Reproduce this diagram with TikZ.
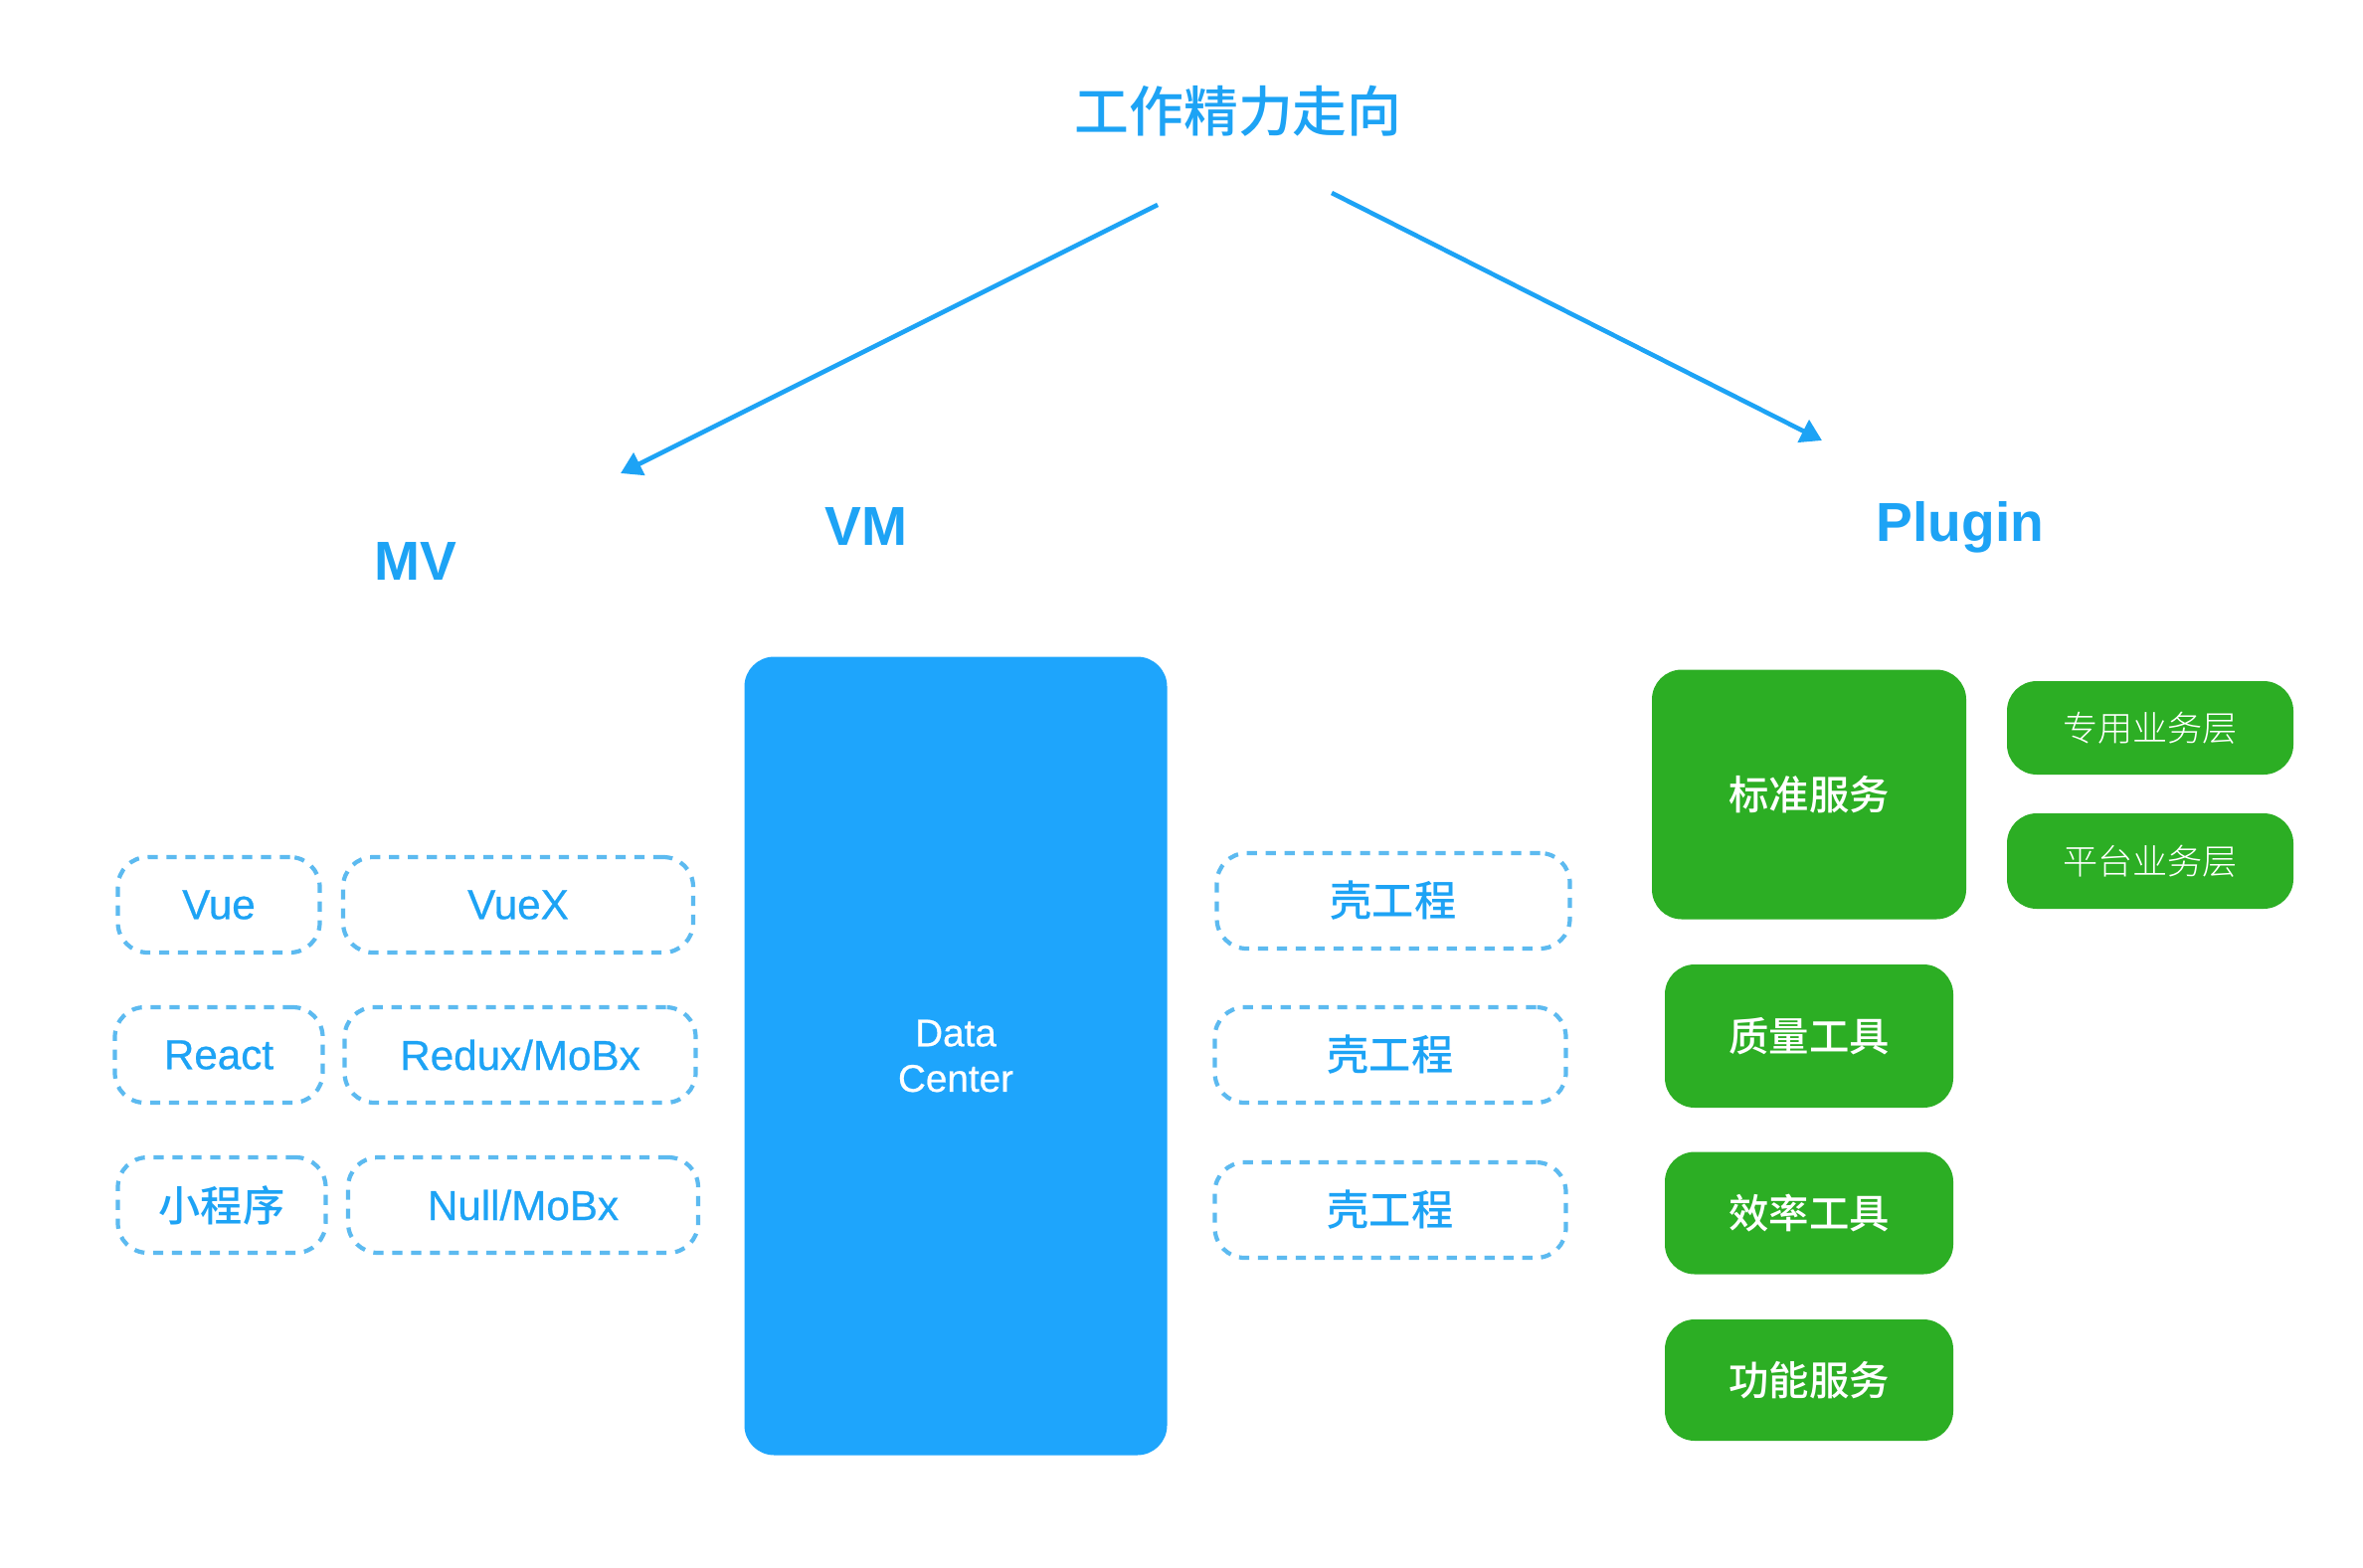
\documentclass[tikz,border=0pt]{standalone}
\usepackage{fontspec}
\setmainfont{Liberation Sans}
\newfontfamily\medsans{Liberation Sans}[FakeBold=0.6]
\newfontfamily\cjk{Noto Sans CJK SC}
\newfontfamily\cjkmed{Noto Sans CJK SC}[UprightFont=* Medium]
\newfontfamily\cjklight{Noto Sans CJK SC}[UprightFont=* Light]
\usetikzlibrary{arrows.meta}

\definecolor{skyblue}{RGB}{29,163,245}
\definecolor{dashblue}{RGB}{92,186,240}
\definecolor{boxblue}{RGB}{30,165,252}
\definecolor{plugreen}{RGB}{44,174,36}

\tikzset{
  lbl/.style={text=skyblue, inner sep=0pt, font=\fontsize{12pt}{14pt}\selectfont\medsans},
  dashbox/.style={lbl, draw=dashblue, line width=1.2pt, dash pattern=on 2.9pt off 2.5pt,
    rounded corners=0.3cm, minimum height=0.96cm},
  cjkdash/.style={dashbox, font=\fontsize{12pt}{14pt}\selectfont\cjkmed},
  greenbox/.style={fill=plugreen, text=white, inner sep=0pt, rounded corners=0.3cm,
    font=\fontsize{11.5pt}{14pt}\selectfont\cjkmed},
  layerbox/.style={greenbox, minimum width=2.88cm, font=\fontsize{10pt}{12pt}\selectfont\cjklight},
  heading/.style={text=skyblue, inner sep=0pt, font=\fontsize{15.7pt}{18pt}\selectfont\bfseries},
  flow/.style={draw=skyblue, line width=1.3pt, -{Triangle[length=6pt,width=7pt]}}
}

\begin{document}
\begin{tikzpicture}[x=1cm,y=1cm]
	\fill [white] (0,0) rectangle (23.76,-15.76);
	\useasboundingbox (0,0) rectangle (23.76,-15.76);
	% title and the two directions
	\draw (12.45,-1.12) node [heading, font=\fontsize{15.6pt}{18pt}\selectfont\cjkmed] (title) {工作精力走向};
	\coordinate (lstart) at (11.64,-2.06);
	\coordinate (lend) at (6.24,-4.76);
	\coordinate (rstart) at (13.39,-1.94);
	\coordinate (rend) at (18.32,-4.43);
	\draw [flow] (lstart) -- (lend);
	\draw [flow] (rstart) -- (rend);
	\draw (4.18,-5.65) node [heading] (mv) {MV};
	\draw (8.71,-5.30) node [heading] (vm) {VM};
	\draw (19.71,-5.30) node [heading] (plugin) {Plugin};
	% MV column
	\draw (2.20,-9.10) node [dashbox, minimum width=2.03cm] (vue) {Vue};
	\draw (5.21,-9.10) node [dashbox, minimum width=3.52cm] (vuex) {VueX};
	\draw (2.20,-10.61) node [dashbox, minimum width=2.09cm] (react) {React};
	\draw (5.23,-10.61) node [dashbox, minimum width=3.53cm] (redux) {Redux/MoBx};
	\draw (2.23,-12.12) node [cjkdash, minimum width=2.09cm] (mini) {小程序};
	\draw (5.26,-12.12) node [dashbox, minimum width=3.52cm] (null) {Null/MoBx};
	% VM column
	\draw (9.61,-10.62) node [fill=boxblue, rounded corners=0.3cm, minimum width=4.25cm, minimum height=8.03cm,
		text=white, align=center, font=\fontsize{11pt}{13pt}\selectfont\medsans] (data) {Data\\Center};
	\draw (14.01,-9.06) node [cjkdash, minimum width=3.55cm] (shella) {壳工程};
	\draw (13.98,-10.61) node [cjkdash, minimum width=3.53cm] (shellb) {壳工程};
	\draw (13.98,-12.17) node [cjkdash, minimum width=3.53cm] (shellc) {壳工程};
	% Plugin column
	\draw (18.19,-7.99) node [greenbox, minimum width=3.16cm, minimum height=2.51cm] (std) {标准服务};
	\draw (21.62,-7.32) node [layerbox, minimum height=0.94cm] (special) {专用业务层};
	\draw (21.62,-8.66) node [layerbox, minimum height=0.96cm] (platform) {平台业务层};
	\draw (18.19,-10.42) node [greenbox, minimum width=2.90cm, minimum height=1.44cm] (quality) {质量工具};
	\draw (18.19,-12.20) node [greenbox, minimum width=2.90cm, minimum height=1.23cm] (effic) {效率工具};
	\draw (18.19,-13.88) node [greenbox, minimum width=2.90cm, minimum height=1.22cm] (func) {功能服务};
\end{tikzpicture}
\end{document}
